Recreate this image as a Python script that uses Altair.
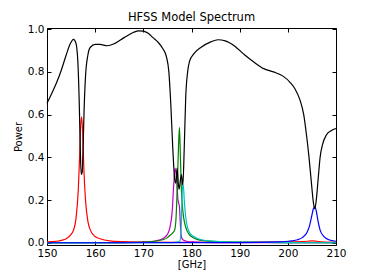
import altair as alt
import pandas as pd

# ---- data ----
black_x = [150, 151, 152, 153, 154, 154.8, 155.5, 156, 156.4, 156.7, 156.9, 157.1, 157.3, 157.5, 157.7,
           158, 158.5, 159, 160, 161, 162.5, 164, 166, 168, 169, 170, 171, 172, 173, 174, 174.8, 175.3,
           175.7, 176.1, 176.5, 176.75, 177.0, 177.4, 177.9, 178.2, 178.5, 178.8, 179.2, 179.6, 180.5,
           182, 184, 185.5, 187, 189, 191, 193, 195, 197, 199, 200.5, 201.5, 202.5, 203.3, 203.9, 204.4,
           204.9, 205.3, 205.6, 205.9, 206.3, 206.7, 207.2, 208, 209, 210]
black_y = [0.653, 0.70, 0.75, 0.81, 0.88, 0.93, 0.952, 0.935, 0.85, 0.65, 0.45, 0.32, 0.33, 0.45, 0.62,
           0.78, 0.88, 0.915, 0.928, 0.928, 0.922, 0.932, 0.96, 0.985, 0.992, 0.99, 0.98, 0.96, 0.94, 0.91,
           0.87, 0.80, 0.65, 0.45, 0.30, 0.28, 0.35, 0.25, 0.32, 0.27, 0.45, 0.68, 0.80, 0.85, 0.885,
           0.915, 0.94, 0.95, 0.945, 0.92, 0.88, 0.845, 0.815, 0.80, 0.78, 0.75, 0.72, 0.67, 0.60, 0.50,
           0.40, 0.28, 0.19, 0.16, 0.20, 0.30, 0.40, 0.46, 0.505, 0.525, 0.535]

red_x = [150, 152, 153, 154, 155, 155.5, 156, 156.5, 156.8, 157.0, 157.2, 157.4, 157.6, 158, 158.5, 159,
         160, 161, 163, 166, 170, 180, 190, 200, 204, 205, 206, 207, 210]
red_y = [0.005, 0.008, 0.012, 0.02, 0.04, 0.06, 0.11, 0.25, 0.42, 0.55, 0.59, 0.52, 0.38, 0.20, 0.10, 0.06,
         0.03, 0.02, 0.01, 0.006, 0.004, 0.003, 0.003, 0.005, 0.008, 0.01, 0.008, 0.005, 0.003]

mag_x = [150, 165, 170, 172, 174, 175, 175.5, 176, 176.3, 176.6, 176.9, 177.2, 177.5, 177.7, 177.9, 178.2,
         179, 180, 185, 210]
mag_y = [0.001, 0.002, 0.004, 0.008, 0.02, 0.04, 0.07, 0.15, 0.27, 0.35, 0.30, 0.20, 0.17, 0.08, 0.03, 0.015,
         0.008, 0.005, 0.002, 0.001]

green_x = [150, 165, 170, 172, 174, 175, 175.5, 176, 176.5, 176.8, 177.1, 177.3, 177.5, 177.7, 177.9, 178.2,
           178.6, 179, 179.5, 180, 181, 183, 186, 190, 200, 210]
green_y = [0.001, 0.002, 0.004, 0.007, 0.015, 0.025, 0.035, 0.045, 0.06, 0.12, 0.30, 0.45, 0.54, 0.40, 0.25,
           0.15, 0.09, 0.06, 0.04, 0.03, 0.018, 0.01, 0.006, 0.004, 0.002, 0.001]

cyan_x = [150, 170, 176, 177, 177.6, 177.9, 178.1, 178.3, 178.5, 178.8, 179.2, 179.7, 180.5, 182, 185, 190,
          200, 210]
cyan_y = [0.0, 0.001, 0.002, 0.004, 0.01, 0.10, 0.25, 0.27, 0.20, 0.12, 0.07, 0.045, 0.03, 0.015, 0.008,
          0.004, 0.002, 0.001]

blue_x = [150, 190, 198, 200, 202, 203, 204, 204.5, 205, 205.3, 205.6, 205.9, 206.2, 206.7, 207.5, 208.5, 210]
blue_y = [0.001, 0.002, 0.005, 0.008, 0.015, 0.025, 0.05, 0.08, 0.13, 0.16, 0.17, 0.15, 0.11, 0.06, 0.03,
          0.015, 0.008]

series_names = ["red", "magenta", "green", "cyan", "blue"]
series_colors = ["#ff0000", "#bf00bf", "#008000", "#00bfbf", "#0000ff"]
x_ticks = [150, 160, 170, 180, 190, 200, 210]
y_ticks = [0.0, 0.2, 0.4, 0.6, 0.8, 1.0]

frames = []
for name, xs, ys in zip(series_names,
                        [red_x, mag_x, green_x, cyan_x, blue_x],
                        [red_y, mag_y, green_y, cyan_y, blue_y]):
    frames.append(pd.DataFrame({"series": name, "f": xs, "p": ys, "order": range(len(xs))}))
colored = pd.concat(frames, ignore_index=True)
black = pd.DataFrame({"f": black_x, "p": black_y, "order": range(len(black_x))})

FONT = "DejaVu Sans"
xscale = alt.Scale(domain=[150, 210], nice=False, zero=False)
yscale = alt.Scale(domain=[-0.0095, 1.005], nice=False, zero=False)

def axis(orient, values, fmt, title, labels=True):
    kw = dict(orient=orient, values=values, format=fmt, grid=False, domain=False,
              ticks=True, tickSize=4, tickColor="black", offset=-4,
              labelColor="black", labelFont=FONT, labelFontSize=10.5, labelPadding=3,
              labelFlush=False, labelOverlap=False,
              titleFont=FONT, titleFontSize=10, titleFontWeight="normal", titleColor="black",
              labels=labels)
    kw["title"] = title if title else None
    return alt.Axis(**kw)

col_layer = alt.Chart(colored).mark_line(strokeWidth=1.2, interpolate="monotone").encode(
    x=alt.X("f:Q", scale=xscale, axis=axis("top", x_ticks, "d", None, labels=False)),
    y=alt.Y("p:Q", scale=yscale, axis=axis("right", y_ticks, ".1f", None, labels=False)),
    color=alt.Color("series:N", scale=alt.Scale(domain=series_names, range=series_colors), legend=None),
    order="order:Q",
)

black_layer = alt.Chart(black).mark_line(strokeWidth=1.2, interpolate="monotone", color="black").encode(
    x=alt.X("f:Q", scale=xscale, axis=axis("bottom", x_ticks, "d", "[GHz]")),
    y=alt.Y("p:Q", scale=yscale, axis=axis("left", y_ticks, ".1f", "Power")),
    order="order:Q",
)

chart = alt.layer(col_layer, black_layer).resolve_axis(x="independent", y="independent").properties(
    width=289, height=217,
    autosize=alt.AutoSizeParams(type="none"),
    padding={"left": 39, "top": 20, "right": 30, "bottom": 28},
    title=alt.TitleParams("HFSS Model Spectrum", font=FONT, fontSize=11.5, fontWeight="normal",
                          color="black", anchor="middle", offset=1),
).configure_view(stroke="black", strokeWidth=1).configure_axisLeft(titlePadding=4).configure_axisBottom(titlePadding=1)

chart.save("out.html", embed_options={"renderer": "svg", "actions": False})
